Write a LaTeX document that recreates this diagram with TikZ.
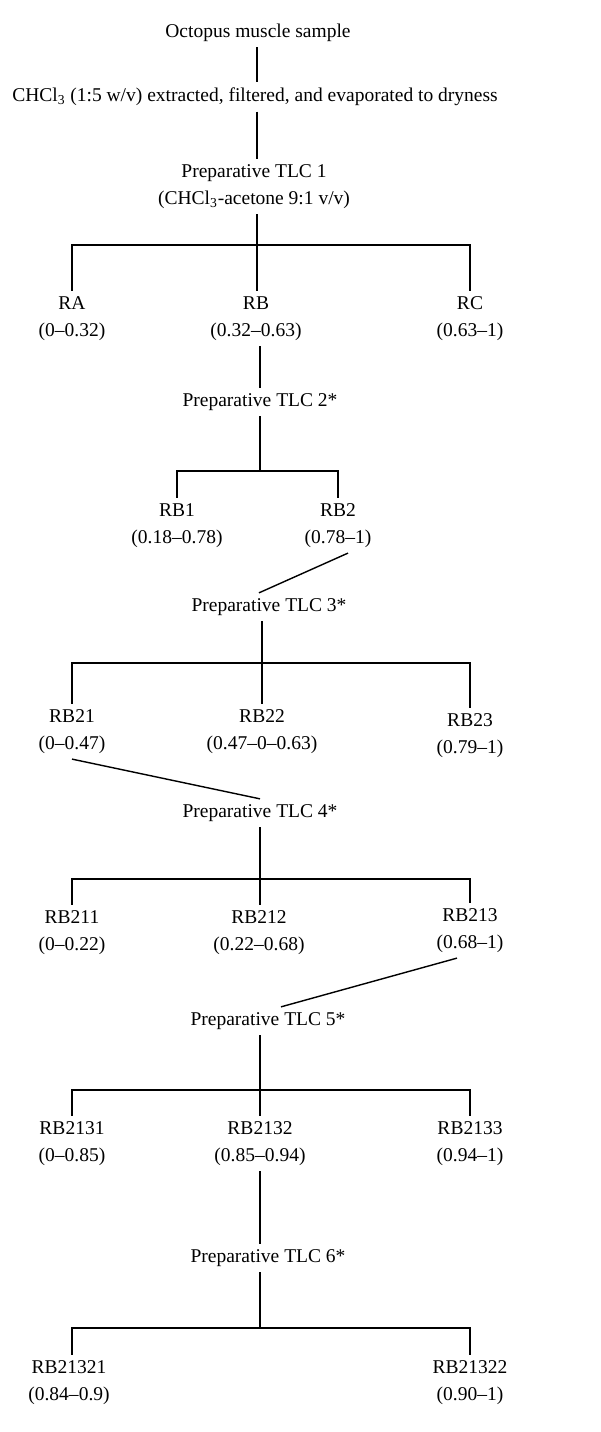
\documentclass[tikz,border=0pt]{standalone}
\usepackage{fontspec}
\setmainfont{Liberation Serif}
\begin{document}
\begin{tikzpicture}[lbl/.style={align=center, inner sep=3pt, font=\fontsize{11.1}{15.3}\selectfont},
        link/.style={line width=0.8pt}]
        \useasboundingbox (0,0) rectangle (12,-28.64);

        % Extraction
        \node[lbl] (sample) at (5.16,-0.66) {Octopus muscle sample};
        \node[lbl] (extract) at (5.10,-1.94) {CHCl\textsubscript{3} (1:5 w/v) extracted, filtered, and evaporated to dryness};
        \node[lbl] (tlc1) at (5.08,-3.73) {Preparative TLC 1\\(CHCl\textsubscript{3}-acetone 9:1 v/v)};
        \draw[link] (sample.south -| 5.14,0) -- (extract.north -| 5.14,0);
        \draw[link] (extract.south -| 5.14,0) -- (tlc1.north -| 5.14,0);

        % TLC 1
        \coordinate (bar1) at (5.14,-4.90);
        \node[lbl] (ra) at (1.44,-6.37) {RA\\(0--0.32)};
        \node[lbl] (rb) at (5.12,-6.37) {RB\\(0.32--0.63)};
        \node[lbl] (rc) at (9.40,-6.37) {RC\\(0.63--1)};
        \draw[link] (ra.north) |- (bar1) -| (rc.north);
        \draw[link] (tlc1.south -| bar1) -- (rb.north -| bar1);

        % TLC 2
        \node[lbl] (tlc2) at (5.20,-8.04) {Preparative TLC 2*};
        \draw[link] (rb.south -| tlc2) -- (tlc2.north);
        \coordinate (bar2) at (5.20,-9.42);
        \node[lbl] (rb1) at (3.54,-10.51) {RB1\\(0.18--0.78)};
        \node[lbl] (rb2) at (6.76,-10.51) {RB2\\(0.78--1)};
        \draw[link] (tlc2.south) -- (bar2);
        \draw[link] (rb1.north) |- (bar2) -| (rb2.north);

        % TLC 3
        \node[lbl] (tlc3) at (5.38,-12.14) {Preparative TLC 3*};
        \draw[link] ([xshift=0.2cm]rb2.south) -- ([xshift=-0.2cm]tlc3.north);
        \coordinate (bar3) at (5.24,-13.26);
        \node[lbl] (rb21) at (1.44,-14.63) {RB21\\(0--0.47)};
        \node[lbl] (rb22) at (5.24,-14.63) {RB22\\(0.47--0--0.63)};
        \node[lbl] (rb23) at (9.40,-14.71) {RB23\\(0.79--1)};
        \draw[link] (rb21.north) |- (bar3) -| (rb23.north);
        \draw[link] (tlc3.south -| bar3) -- (rb22.north);

        % TLC 4
        \node[lbl] (tlc4) at (5.20,-16.26) {Preparative TLC 4*};
        \draw[link] (rb21.south) -- (tlc4.north);
        \coordinate (bar4) at (5.20,-17.58);
        \node[lbl] (rb211) at (1.44,-18.65) {RB211\\(0--0.22)};
        \node[lbl] (rb212) at (5.18,-18.65) {RB212\\(0.22--0.68)};
        \node[lbl] (rb213) at (9.40,-18.61) {RB213\\(0.68--1)};
        \draw[link] (rb211.north) |- (bar4) -| (rb213.north);
        \draw[link] (tlc4.south) -- (rb212.north -| tlc4.south);

        % TLC 5
        \node[lbl] (tlc5) at (5.36,-20.42) {Preparative TLC 5*};
        \draw[link] ([xshift=-0.26cm]rb213.south) -- ([xshift=0.26cm]tlc5.north);
        \coordinate (bar5) at (5.20,-21.80);
        \node[lbl] (rb2131) at (1.44,-22.87) {RB2131\\(0--0.85)};
        \node[lbl] (rb2132) at (5.20,-22.87) {RB2132\\(0.85--0.94)};
        \node[lbl] (rb2133) at (9.40,-22.87) {RB2133\\(0.94--1)};
        \draw[link] (rb2131.north) |- (bar5) -| (rb2133.north);
        \draw[link] (tlc5.south -| bar5) -- (rb2132.north);

        % TLC 6
        \node[lbl] (tlc6) at (5.36,-25.16) {Preparative TLC 6*};
        \draw[link] (rb2132.south) -- (tlc6.north -| rb2132.south);
        \coordinate (bar6) at (5.20,-26.56);
        \node[lbl] (rb21321) at (1.38,-27.65) {RB21321\\(0.84--0.9)};
        \node[lbl] (rb21322) at (9.40,-27.65) {RB21322\\(0.90--1)};
        \draw[link] (tlc6.south -| bar6) -- (bar6);
        \draw[link] (rb21321.north -| 1.44,0) |- (bar6) -| (rb21322.north);
    \end{tikzpicture}
\end{document}
